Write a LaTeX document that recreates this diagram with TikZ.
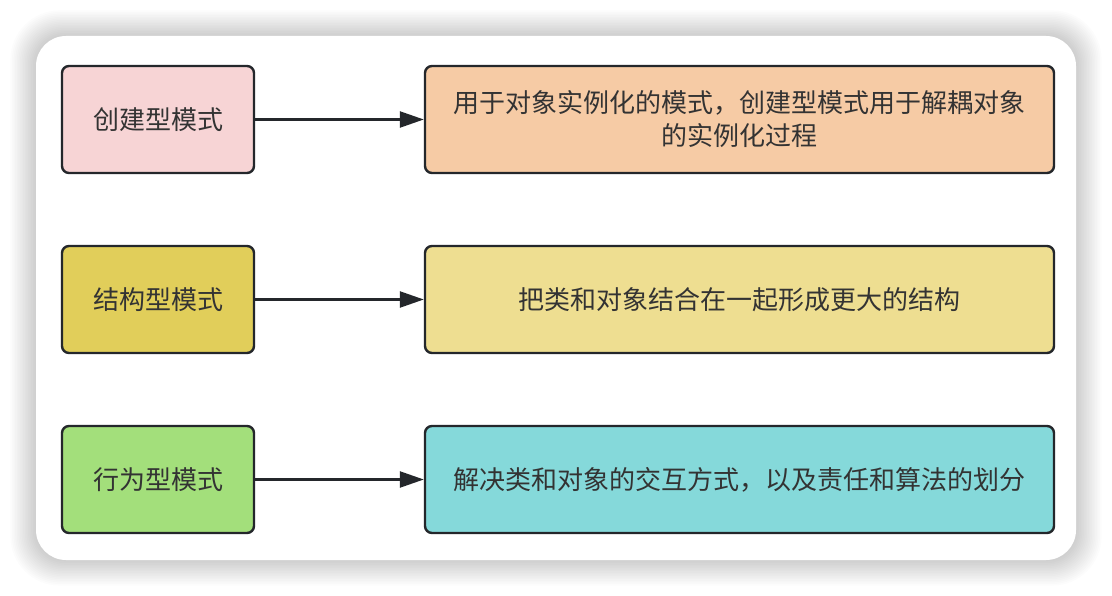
\documentclass[tikz,border=0pt]{standalone}
\usepackage{fontspec}
\setmainfont{Noto Sans CJK SC}
\usetikzlibrary{arrows.meta}
\tikzset{>={Triangle[length=24pt,width=16pt]}}
\definecolor{lineclr}{HTML}{24272B}
\definecolor{txtclr}{HTML}{333333}
\definecolor{pinkclr}{HTML}{F7D4D5}
\definecolor{orangeclr}{HTML}{F6CBA5}
\definecolor{mustardclr}{HTML}{E1CE5A}
\definecolor{sandclr}{HTML}{EEDE91}
\definecolor{greenclr}{HTML}{A3DF7B}
\definecolor{cyanclr}{HTML}{85D9DA}
\tikzset{
  kind/.style={draw=lineclr,line width=2.4pt,rounded corners=7pt,minimum width=192pt,minimum height=107pt,
    text=txtclr,font=\fontsize{26}{33}\selectfont,align=center,inner sep=0pt},
  note/.style={kind,minimum width=629pt,text width=600pt}
}

\begin{document}
\begin{tikzpicture}[x=1pt,y=-1pt,line width=2.4pt]
  \def\lx{158}
  \def\rx{739.5}

  \useasboundingbox (0,0) rectangle (1112,596);

  % card with soft shadow
  \foreach \i in {1,...,16}
    \fill[black,opacity=0.01,rounded corners={30+\i*1.2}] (36-\i*1.6,36-\i*1.6) rectangle (1076+\i*1.6,560+\i*1.6);
  \fill[white,rounded corners=30pt] (36,36) rectangle (1076,560);

  % Creational
  \node[kind,fill=pinkclr] (create) at (\lx,119.5) {创建型模式};
  \node[note,fill=orangeclr] (createtxt) at (\rx,119.5) {用于对象实例化的模式，创建型模式用于解耦对象\\的实例化过程};
  \draw[->,draw=lineclr] (create) -- (createtxt);

  % Structural
  \node[kind,fill=mustardclr] (struct) at (\lx,299.5) {结构型模式};
  \node[note,fill=sandclr] (structtxt) at (\rx,299.5) {把类和对象结合在一起形成更大的结构};
  \draw[->,draw=lineclr] (struct) -- (structtxt);

  % Behavioral
  \node[kind,fill=greenclr] (behave) at (\lx,479.5) {行为型模式};
  \node[note,fill=cyanclr] (behavetxt) at (\rx,479.5) {解决类和对象的交互方式，以及责任和算法的划分};
  \draw[->,draw=lineclr] (behave) -- (behavetxt);
\end{tikzpicture}
\end{document}
